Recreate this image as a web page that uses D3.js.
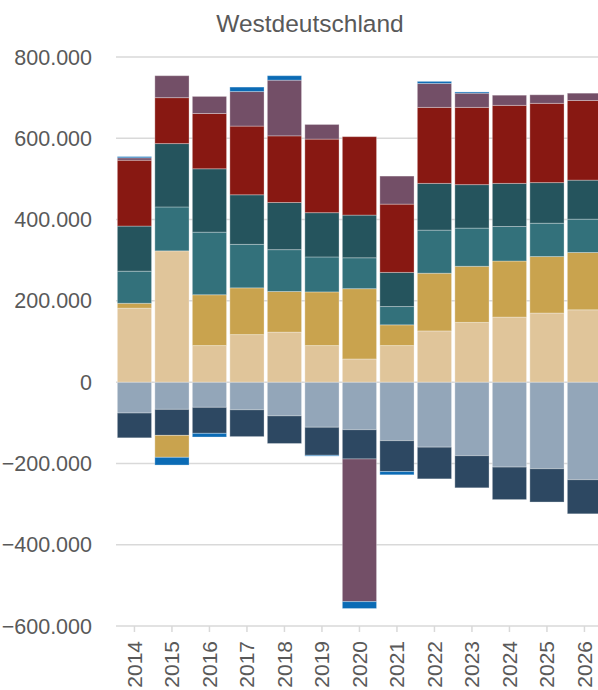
<!DOCTYPE html>
<html><head><meta charset="utf-8">
<script src="https://cdn.jsdelivr.net/npm/d3@7"></script>
<style>html,body{margin:0;padding:0;background:#fff;overflow:hidden}</style>
</head><body>
<svg id="c" width="598" height="690"></svg>
<script>
const years = ["2014","2015","2016","2017","2018","2019","2020","2021","2022","2023","2024","2025","2026"];
const seriesNames = ["s1","s2","s3","s4","s5","s6","s7","s8","s9"];
const s1 = [-76,-67,-62,-68,-83,-111,-117,-144,-160,-181,-209,-213,-240];
const s2 = [-61,-64,-64,-66,-68,-69,-72,-76,-78,-79,-80,-82,-84];
const s3 = [182,323,90,117,123,90,57,90,126,147,160,170,178];
const s4 = [12,-54,125,115,100,132,173,51,142,138,138,139,141];
const s5 = [79,108,154,107,103,86,76,45,106,94,85,82,82];
const s6 = [111,156,156,122,116,109,105,84,115,107,106,100,96];
const s7 = [162,113,136,169,164,181,193,168,187,190,192,195,196];
const s8 = [6,54,42,85,137,36,-351,69,59,35,25,21,18];
const s9 = [3,-19,-9,11,11,-2,-17,-8,5,3,0,0,0];
const colors = ["#93A6B9","#2D4862","#E0C59A","#C9A34E","#33717B","#25545D","#881812","#734F67","#0B6BB5"];
const yTicks = [-600000,-400000,-200000,0,200000,400000,600000,800000];
const title = "Westdeutschland";

const allSeries = [s1,s2,s3,s4,s5,s6,s7,s8,s9];
const table = years.map((y,i)=>{
  const o = {year:y};
  seriesNames.forEach((n,k)=>{ o[n] = allSeries[k][i]*1000; });
  return o;
});
const stack = d3.stack().keys(seriesNames).offset(d3.stackOffsetDiverging);
const layers = stack(table);

const svg = d3.select("#c");
const x = d3.scaleBand().domain(years).range([115.7,603.2]).paddingInner(0.088).paddingOuter(0.044);
const y = d3.scaleLinear().domain([-600000,800000]).range([626,57]);
const fmt = v => v===0 ? "0" : d3.format(",")(v).replace(/,/g,".");
const font = "'Liberation Sans', Arial, sans-serif";
const grey = "#595959";

// gridlines
svg.append("g").selectAll("line").data(yTicks).join("line")
  .attr("x1",116).attr("x2",598)
  .attr("y1",d=>y(d)).attr("y2",d=>y(d))
  .attr("stroke","#D9D9D9").attr("stroke-width",1.5);

// y labels
svg.append("g").selectAll("text").data(yTicks).join("text")
  .attr("x",92).attr("y",d=>y(d)).attr("dy","0.35em")
  .attr("text-anchor","end").attr("font-family",font).attr("font-size",21.5)
  .attr("fill",grey).text(fmt);

// bars
svg.append("g").selectAll("g").data(layers).join("g")
  .attr("fill",(d,i)=>colors[i])
  .selectAll("rect").data(d=>d).join("rect")
  .attr("x",d=>x(d.data.year))
  .attr("width",x.bandwidth())
  .attr("y",d=>y(Math.max(d[0],d[1])))
  .attr("height",d=>Math.abs(y(d[0])-y(d[1])))
  .attr("stroke","rgba(255,255,255,0.3)").attr("stroke-width",1);

// x axis ticks
svg.append("g").selectAll("line").data(years).join("line")
  .attr("x1",d=>x(d)+x.bandwidth()/2).attr("x2",d=>x(d)+x.bandwidth()/2)
  .attr("y1",626).attr("y2",632)
  .attr("stroke","#D9D9D9").attr("stroke-width",1.5);

// x labels
svg.append("g").selectAll("text").data(years).join("text")
  .attr("transform",d=>`translate(${x(d)+x.bandwidth()/2},641) rotate(-90)`)
  .attr("dy","0.35em").attr("text-anchor","end")
  .attr("font-family",font).attr("font-size",21).attr("fill",grey).text(d=>d);

// title
svg.append("text").attr("x",310).attr("y",32).attr("text-anchor","middle")
  .attr("font-family",font).attr("font-size",24.5).attr("fill",grey).text(title);
</script>
</body></html>
